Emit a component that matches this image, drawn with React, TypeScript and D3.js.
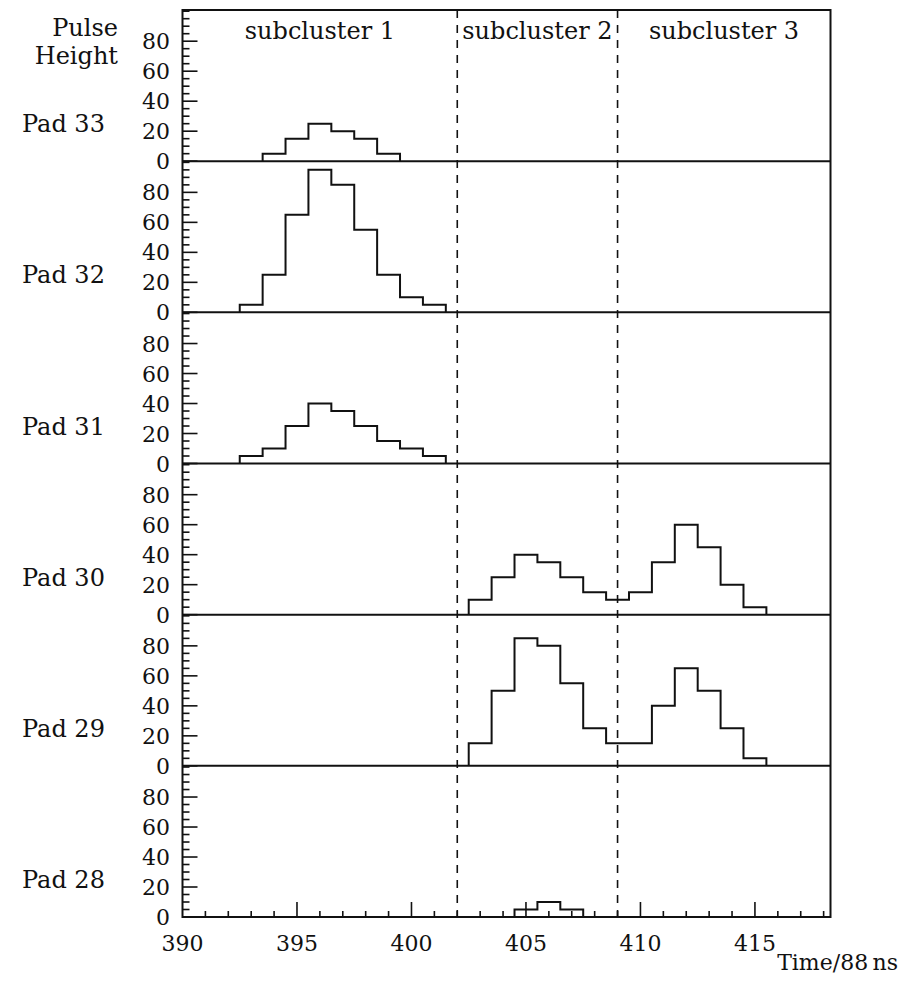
import React from "react";
import * as d3 from "d3";

// Time bins (units of 88 ns) and pulse heights per pad
const pad33Bins = [394, 395, 396, 397, 398, 399];
const pad33Vals = [5, 15, 25, 20, 15, 5];

const pad32Bins = [393, 394, 395, 396, 397, 398, 399, 400, 401];
const pad32Vals = [5, 25, 65, 95, 85, 55, 25, 10, 5];

const pad31Bins = [393, 394, 395, 396, 397, 398, 399, 400, 401];
const pad31Vals = [5, 10, 25, 40, 35, 25, 15, 10, 5];

const pad30Bins = [403, 404, 405, 406, 407, 408, 409, 410, 411, 412, 413, 414, 415];
const pad30Vals = [10, 25, 40, 35, 25, 15, 10, 15, 35, 60, 45, 20, 5];

const pad29Bins = [403, 404, 405, 406, 407, 408, 409, 410, 411, 412, 413, 414, 415];
const pad29Vals = [15, 50, 85, 80, 55, 25, 15, 15, 40, 65, 50, 25, 5];

const pad28Bins = [405, 406, 407];
const pad28Vals = [5, 10, 5];

const padNames = ["Pad 33", "Pad 32", "Pad 31", "Pad 30", "Pad 29", "Pad 28"];
const padBins = [pad33Bins, pad32Bins, pad31Bins, pad30Bins, pad29Bins, pad28Bins];
const padVals = [pad33Vals, pad32Vals, pad31Vals, pad30Vals, pad29Vals, pad28Vals];

const yTickLabels = [0, 20, 40, 60, 80];
const xTickLabels = [390, 395, 400, 405, 410, 415];
const clusterBounds = [402, 409];
const clusterNames = ["subcluster 1", "subcluster 2", "subcluster 3"];

const X_MIN = 390;
const X_MAX = 418.3;
const Y_MAX = 100.8;

const W = 904;
const H = 983;
const left = 182.5;
const right = 830.5;
const top = 10;
const bottom = 917;
const panelH = (bottom - top) / padNames.length;

const FONT = "'DejaVu Serif', serif";
const INK = "#111";

export default function App() {
  const x = d3.scaleLinear().domain([X_MIN, X_MAX]).range([left, right]);
  const yFor = (i: number) =>
    d3
      .scaleLinear()
      .domain([0, Y_MAX])
      .range([top + (i + 1) * panelH, top + i * panelH]);

  const minorX = d3.range(391, 419, 1);
  const minorY = d3.range(0, 101, 5);

  const regionEdges = [X_MIN, ...clusterBounds, X_MAX];

  return (
    <svg
      width={W}
      height={H}
      style={{ position: "absolute", left: 0, top: 0, background: "#fff" }}
    >
      <rect x={0} y={0} width={W} height={H} fill="#fff" />

      {/* y axis caption */}
      <text x={118} y={36} textAnchor="end" fontFamily={FONT} fontSize={24} fill={INK}>
        Pulse
      </text>
      <text x={118} y={64} textAnchor="end" fontFamily={FONT} fontSize={24} fill={INK}>
        Height
      </text>

      {padNames.map((name, i) => {
        const y = yFor(i);
        const y0 = y(0);
        const bins = padBins[i];
        const vals = padVals[i];
        const pts: [number, number][] = [[bins[0] - 0.5, 0]];
        bins.forEach((b, k) => {
          pts.push([b - 0.5, vals[k]]);
          pts.push([b + 0.5, vals[k]]);
        });
        pts.push([bins[bins.length - 1] + 0.5, 0]);
        const line = d3
          .line<[number, number]>()
          .x((d) => x(d[0]))
          .y((d) => y(d[1]));
        return (
          <g key={name}>
            {/* y ticks */}
            {minorY.map((v) => {
              const major = v % 20 === 0 && v <= 80;
              return (
                <line
                  key={v}
                  x1={left}
                  x2={left + (major ? 15 : 7)}
                  y1={y(v)}
                  y2={y(v)}
                  stroke={INK}
                  strokeWidth={1.6}
                />
              );
            })}
            {yTickLabels.map((v) => (
              <text
                key={v}
                x={170}
                y={y(v) + 8}
                textAnchor="end"
                fontFamily={FONT}
                fontSize={22}
                fill={INK}
              >
                {v}
              </text>
            ))}
            <text x={22} y={y0 - 29} fontFamily={FONT} fontSize={24} fill={INK}>
              {name}
            </text>
            <path d={line(pts) || ""} fill="none" stroke={INK} strokeWidth={2} />
            {/* panel separator */}
            <line x1={left} x2={right} y1={y0} y2={y0} stroke={INK} strokeWidth={2} />
          </g>
        );
      })}

      {/* x ticks on the bottom axis */}
      {minorX.map((v) => {
        const major = v % 5 === 0;
        return (
          <line
            key={v}
            x1={x(v)}
            x2={x(v)}
            y1={bottom}
            y2={bottom - (major ? 15 : 6)}
            stroke={INK}
            strokeWidth={1.6}
          />
        );
      })}
      {xTickLabels.map((v) => (
        <text
          key={v}
          x={x(v)}
          y={951}
          textAnchor="middle"
          fontFamily={FONT}
          fontSize={22}
          fill={INK}
        >
          {v}
        </text>
      ))}
      <text x={898} y={970} textAnchor="end" fontFamily={FONT} fontSize={22} fill={INK}>
        {"Time/88\u2009ns"}
      </text>

      {/* subcluster boundaries */}
      {clusterBounds.map((b) => (
        <line
          key={b}
          x1={x(b)}
          x2={x(b)}
          y1={top}
          y2={bottom}
          stroke={INK}
          strokeWidth={1.6}
          strokeDasharray="8 7"
        />
      ))}
      {clusterNames.map((n, k) => (
        <text
          key={n}
          x={x((regionEdges[k] + regionEdges[k + 1]) / 2)}
          y={39}
          textAnchor="middle"
          fontFamily={FONT}
          fontSize={24}
          fill={INK}
        >
          {n}
        </text>
      ))}

      {/* frame */}
      <rect
        x={left}
        y={top}
        width={right - left}
        height={bottom - top}
        fill="none"
        stroke={INK}
        strokeWidth={2}
      />
    </svg>
  );
}
